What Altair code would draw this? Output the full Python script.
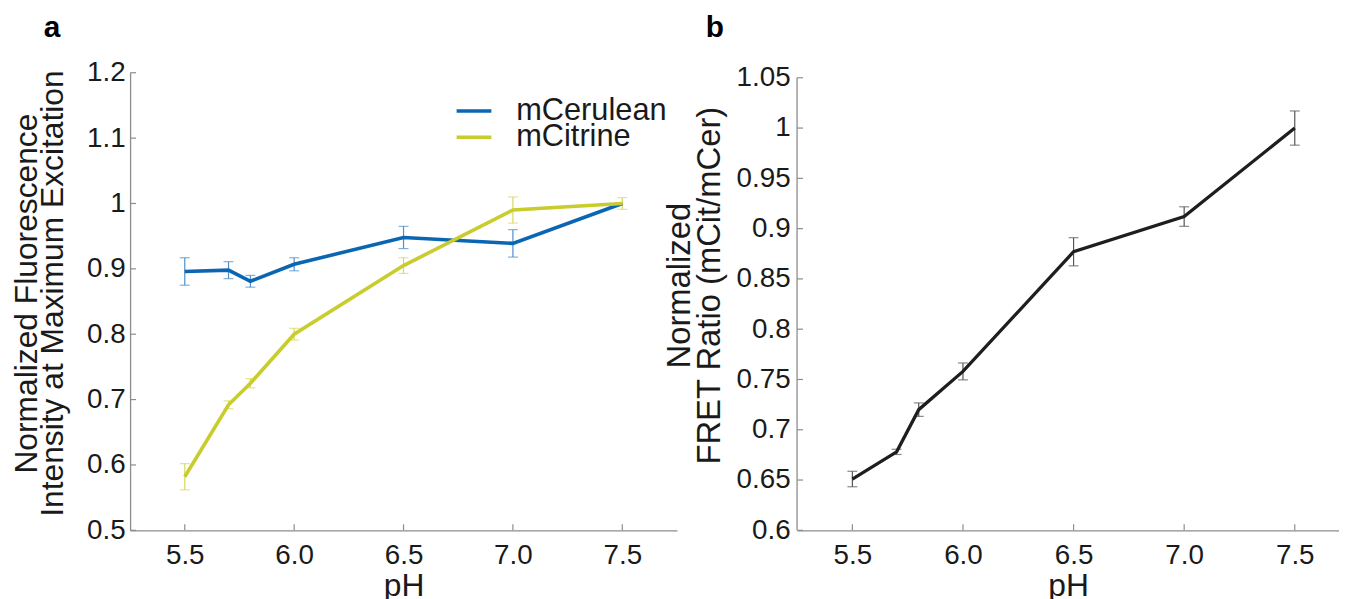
import altair as alt
import pandas as pd

# ---------------- data ----------------
pH = [5.5, 5.7, 5.8, 6.0, 6.5, 7.0, 7.5]
cerulean = [0.896, 0.898, 0.881, 0.907, 0.948, 0.939, 1.000]
cerulean_err = [0.021, 0.013, 0.009, 0.010, 0.017, 0.021, 0.0]
citrine = [0.582, 0.692, 0.725, 0.800, 0.905, 0.990, 1.000]
citrine_err = [0.020, 0.006, 0.007, 0.009, 0.012, 0.020, 0.009]
fret = [0.651, 0.678, 0.720, 0.758, 0.877, 0.912, 1.000]
fret_err = [0.0077, 0.0026, 0.0067, 0.0084, 0.014, 0.0097, 0.017]

series_names = ["mCerulean", "mCitrine"]
x_ticks = [5.5, 6.0, 6.5, 7.0, 7.5]
ya_ticks = [0.5, 0.6, 0.7, 0.8, 0.9, 1.0, 1.1, 1.2]
yb_ticks = [0.6, 0.65, 0.7, 0.75, 0.8, 0.85, 0.9, 0.95, 1.0, 1.05]

# ---------------- style ----------------
FONT = "Liberation Sans"
LINE_COLORS = ["#0a66b2", "#c8cc2c"]
ERR_COLORS = ["#4f8fcc", "#d6d862"]
AXIS_GRAY = "#8c8c8c"
TEXT = "#1a1a1a"
WA, HA = 551, 461
WB, HB = 546, 461

rows = []
for name, vals, errs in [("mCerulean", cerulean, cerulean_err),
                         ("mCitrine", citrine, citrine_err)]:
    for p, v, e in zip(pH, vals, errs):
        rows.append({"pH": p, "value": v, "lo": v - e, "hi": v + e,
                     "err": e, "series": name})
df_a = pd.DataFrame(rows)
df_b = pd.DataFrame({"pH": pH, "value": fret,
                     "lo": [v - e for v, e in zip(fret, fret_err)],
                     "hi": [v + e for v, e in zip(fret, fret_err)]})
df_xt = pd.DataFrame({"t": x_ticks})
df_yat = pd.DataFrame({"t": ya_ticks})
df_ybt = pd.DataFrame({"t": yb_ticks})
df_ybdom = pd.DataFrame({"y0": [yb_ticks[0]], "y1": [yb_ticks[-1]]})

# ---------------- panel a ----------------
xa_scale = alt.Scale(domain=[5.25, 7.75], nice=False, zero=False)
ya_scale = alt.Scale(domain=[0.5, 1.2], nice=False, zero=False)

xa_axis = alt.Axis(values=x_ticks, format=".1f", title="pH", ticks=False,
                   labelPadding=11, titlePadding=2)
ya_axis = alt.Axis(values=ya_ticks, format=".1~f", ticks=False, labelPadding=5,
                   title=["Normalized Fluorescence", "Intensity at Maximum Excitation"],
                   titlePadding=17, titleLineHeight=26, titleY=222)

base_a = alt.Chart(df_a)
err_color = alt.Color("series:N", scale=alt.Scale(domain=series_names, range=ERR_COLORS),
                      legend=None)

err_a = base_a.transform_filter("datum.err > 0").mark_rule(strokeWidth=1.2).encode(
    x=alt.X("pH:Q", scale=xa_scale, axis=xa_axis),
    y=alt.Y("lo:Q", scale=ya_scale, axis=ya_axis),
    y2="hi:Q",
    color=err_color,
)
cap_lo_a = base_a.transform_filter("datum.err > 0").mark_tick(
    orient="horizontal", size=10, thickness=1.2).encode(
    x=alt.X("pH:Q", scale=xa_scale), y=alt.Y("lo:Q", scale=ya_scale), color=err_color)
cap_hi_a = base_a.transform_filter("datum.err > 0").mark_tick(
    orient="horizontal", size=10, thickness=1.2).encode(
    x=alt.X("pH:Q", scale=xa_scale), y=alt.Y("hi:Q", scale=ya_scale), color=err_color)


def series_line(idx, legend_y):
    name = series_names[idx]
    return base_a.transform_filter(alt.datum.series == name).mark_line(
        strokeWidth=3.6).encode(
        x=alt.X("pH:Q", scale=xa_scale),
        y=alt.Y("value:Q", scale=ya_scale),
        color=alt.Color("series:N",
                        scale=alt.Scale(domain=[name], range=[LINE_COLORS[idx]]),
                        legend=alt.Legend(orient="none", legendX=331, legendY=legend_y,
                                          title=None, symbolType="M-2,0L2,0",
                                          symbolSize=306, symbolStrokeWidth=3.6,
                                          labelFont=FONT, labelFontSize=31,
                                          labelColor=TEXT, labelOffset=27, padding=0)),
    )


line_cer = series_line(0, 23)
line_cit = series_line(1, 49.5)

xt_a = alt.Chart(df_xt).mark_rule(color=AXIS_GRAY, strokeWidth=1.2).encode(
    x=alt.X("t:Q", scale=xa_scale), y=alt.value(HA), y2=alt.value(HA - 6))
yt_a = alt.Chart(df_yat).mark_rule(color=AXIS_GRAY, strokeWidth=1.2).encode(
    y=alt.Y("t:Q", scale=ya_scale), x=alt.value(0), x2=alt.value(6))

panel_a = alt.layer(err_a, cap_lo_a, cap_hi_a, line_cer, line_cit, xt_a, yt_a
                    ).resolve_scale(color="independent").properties(
    width=WA, height=HA,
    title=alt.TitleParams("a", anchor="start", frame="group", dx=-87, fontSize=30,
                          fontWeight="bold", font=FONT, color="#000000", offset=16))

# ---------------- panel b ----------------
xb_scale = alt.Scale(domain=[5.25, 7.70], nice=False, zero=False)
yb_scale = alt.Scale(domain=[0.6, 1.055], nice=False, zero=False)

xb_axis = alt.Axis(values=x_ticks, format=".1f", title="pH", ticks=False,
                   labelPadding=11, titlePadding=2)
yb_axis = alt.Axis(values=yb_ticks, format=".2~f", ticks=False, domain=False,
                   labelPadding=7, title=["Normalized", "FRET Ratio (mCit/mCer)"],
                   titlePadding=10, titleLineHeight=30, titleY=214, titleFontSize=33)

base_b = alt.Chart(df_b)
err_b = base_b.mark_rule(strokeWidth=1.2, color="#555555").encode(
    x=alt.X("pH:Q", scale=xb_scale, axis=xb_axis),
    y=alt.Y("lo:Q", scale=yb_scale, axis=yb_axis),
    y2="hi:Q",
)
cap_lo_b = base_b.mark_tick(orient="horizontal", size=10, thickness=1.2,
                            color="#555555").encode(
    x=alt.X("pH:Q", scale=xb_scale), y=alt.Y("lo:Q", scale=yb_scale))
cap_hi_b = base_b.mark_tick(orient="horizontal", size=10, thickness=1.2,
                            color="#555555").encode(
    x=alt.X("pH:Q", scale=xb_scale), y=alt.Y("hi:Q", scale=yb_scale))
line_b = base_b.mark_line(strokeWidth=3.3, color="#1e1e1e").encode(
    x=alt.X("pH:Q", scale=xb_scale), y=alt.Y("value:Q", scale=yb_scale))

ydom_b = alt.Chart(df_ybdom).mark_rule(color=AXIS_GRAY, strokeWidth=1.3).encode(
    x=alt.value(0), y=alt.Y("y0:Q", scale=yb_scale), y2="y1:Q")
xt_b = alt.Chart(df_xt).mark_rule(color=AXIS_GRAY, strokeWidth=1.2).encode(
    x=alt.X("t:Q", scale=xb_scale), y=alt.value(HB), y2=alt.value(HB - 6))
yt_b = alt.Chart(df_ybt).mark_rule(color=AXIS_GRAY, strokeWidth=1.2).encode(
    y=alt.Y("t:Q", scale=yb_scale), x=alt.value(0), x2=alt.value(6))

panel_b = alt.layer(err_b, cap_lo_b, cap_hi_b, line_b, ydom_b, xt_b, yt_b).properties(
    width=WB, height=HB,
    title=alt.TitleParams("b", anchor="start", frame="group", dx=-92, fontSize=30,
                          fontWeight="bold", font=FONT, color="#000000", offset=21))

chart = alt.hconcat(panel_a, panel_b, spacing=121).properties(
    bounds="flush",
    padding={"left": 3, "top": 3, "right": 0, "bottom": 0},
).configure_view(stroke=None).configure_axis(
    grid=False, domainColor=AXIS_GRAY, domainWidth=1.3,
    labelFont=FONT, labelFontSize=28, labelColor=TEXT,
    titleFont=FONT, titleFontSize=32, titleFontWeight="normal", titleColor=TEXT,
).configure_title(font=FONT)

chart.save("out.html", embed_options={"renderer": "svg", "actions": False})
